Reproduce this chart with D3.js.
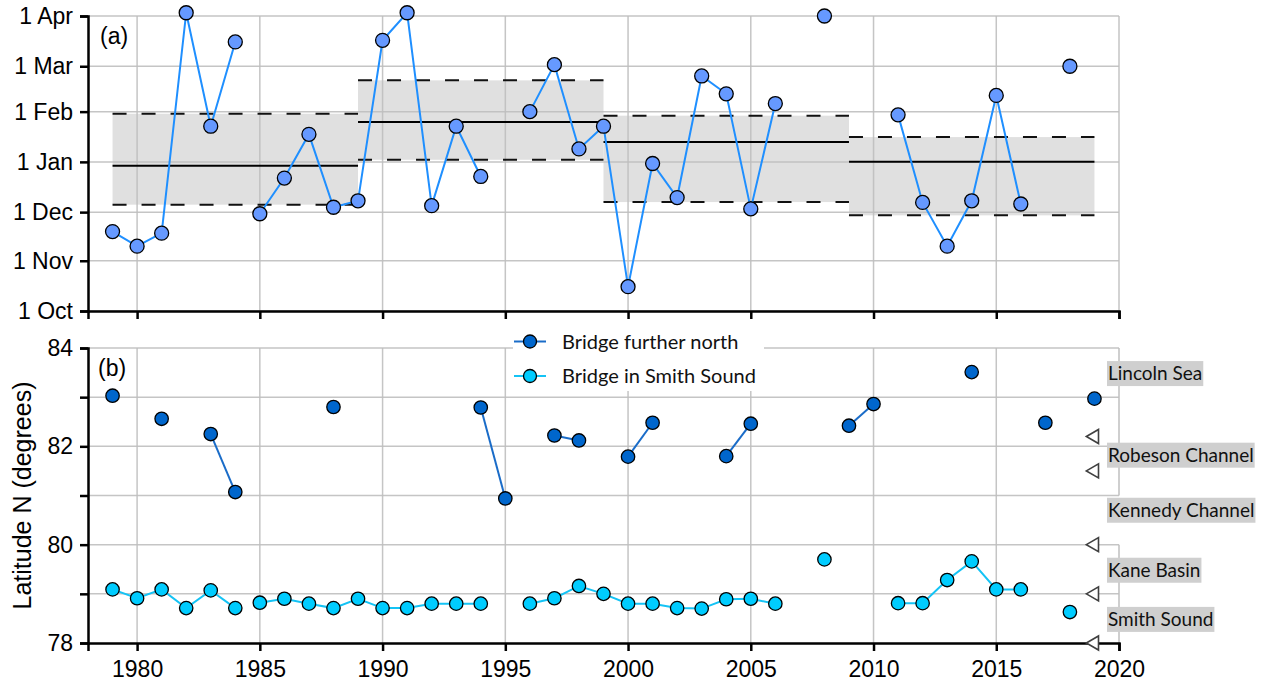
<!DOCTYPE html>
<html>
<head>
<meta charset="utf-8">
<script src="https://cdn.jsdelivr.net/npm/d3@7"></script>
<style>
  html, body { margin: 0; padding: 0; background: #fff; }
  svg { display: block; }
</style>
</head>
<body>
<svg id="chart" width="1263" height="686"></svg>
<script>
// ---- data -------------------------------------------------------------
const years = d3.range(1979, 2020);

// (a) ice-bridge formation date, days after 1 October
const formationDay = [
  49, 40, 48, 184, 114, 166, 60, 82, 109, 64,
  68, 167, 184, 65, 114, 83, null, 123, 152, 100,
  114, 15, 91, 70, 145, 134, 63, 128, null, 182,
  null, null, 121, 67, 40, 68, 133, 66, null, 151,
  null
];
// years at which the connecting line starts afresh
const lineRestarts = [1985];

// decadal mean and ± one standard deviation (days after 1 October)
const decadeStart = [1979, 1989, 1999, 2009];
const decadeEnd   = [1989, 1999, 2009, 2019];
const decadeMean  = [89.6, 116.6, 104.3, 92.1];
const decadeUpper = [121.7, 142.3, 120.5, 107.3];
const decadeLower = [65.6, 93.3, 67.2, 59.0];

// month ticks, days after 1 October
const monthDays   = [0, 31, 61, 92, 123, 151, 182];
const monthLabels = ["1 Oct", "1 Nov", "1 Dec", "1 Jan", "1 Feb", "1 Mar", "1 Apr"];

// (b) bridge latitude, degrees N
const northLat = [
  83.03, null, 82.56, null, 82.25, 81.07, null, null, null, 82.80,
  null, null, null, null, null, 82.79, 80.94, null, 82.22, 82.12,
  null, 81.79, 82.48, null, null, 81.80, 82.46, null, null, null,
  82.42, 82.86, null, null, null, 83.51, null, null, 82.48, null,
  82.97
];
const smithLat = [
  79.09, 78.91, 79.09, 78.71, 79.07, 78.71, 78.82, 78.90, 78.80, 78.71,
  78.90, 78.71, 78.71, 78.80, 78.80, 78.80, null, 78.80, 78.91, 79.16,
  79.00, 78.80, 78.80, 78.71, 78.70, 78.89, 78.90, 78.80, null, 79.70,
  null, null, 78.81, 78.81, 79.28, 79.66, 79.09, 79.09, null, 78.63,
  null
];

// region boundaries and names along the strait
const boundaryLat = [82.2, 81.5, 80, 79, 78];
const regionNames = ["Lincoln Sea", "Robeson Channel", "Kennedy Channel", "Kane Basin", "Smith Sound"];
const regionLabelLat = [83.48, 81.82, 80.70, 79.48, 78.48];

const seriesNames = ["Bridge further north", "Bridge in Smith Sound"];

const xTicks = [1980, 1985, 1990, 1995, 2000, 2005, 2010, 2015, 2020];
const latTicks = [78, 79, 80, 81, 82, 83, 84];

// ---- layout -----------------------------------------------------------
const svg = d3.select("#chart");
const GRID = "#bfbfbf";
const TICK_FONT = "'Liberation Sans', Arial, sans-serif";
const LABEL_FONT = "Lato, 'Open Sans', sans-serif";

const x = d3.scaleLinear().domain([1978, 2020]).range([88, 1119]);
const yTop = d3.scaleLinear().domain([0, 182]).range([311, 16]);
const yBot = d3.scaleLinear().domain([78, 84]).range([643, 348]);

const colTopLine = "#1f8fff", colTopFill = "#6699ff";
const colNorthLine = "#1a6cc8", colNorthFill = "#0066cc";
const colSmithLine = "#14c3f5", colSmithFill = "#00ccff";

function pairs(vals) {
  return years.map((yr, i) => ({ year: yr, v: vals[i] }));
}
function segments(vals) {
  const segs = [];
  let cur = [];
  pairs(vals).forEach(d => {
    if (d.v == null || lineRestarts.includes(d.year)) {
      if (cur.length) segs.push(cur);
      cur = [];
    }
    if (d.v != null) cur.push(d);
  });
  if (cur.length) segs.push(cur);
  return segs.filter(s => s.length > 1);
}

// ---- panel (a) ----------------------------------------------------------
const gA = svg.append("g");

// decadal ±1 sd bands
decadeStart.forEach((s, i) => {
  gA.append("rect")
    .attr("x", x(s)).attr("width", x(decadeEnd[i]) - x(s))
    .attr("y", yTop(decadeUpper[i]))
    .attr("height", yTop(decadeLower[i]) - yTop(decadeUpper[i]))
    .attr("fill", "#e0e0e0");
});

// grid
gA.selectAll("line.hgrid").data(monthDays).join("line")
  .attr("x1", x(1978)).attr("x2", x(2020))
  .attr("y1", d => yTop(d)).attr("y2", d => yTop(d))
  .attr("stroke", GRID).attr("stroke-width", 1.5).attr("opacity", 0.9);
gA.selectAll("line.vgrid").data(xTicks).join("line")
  .attr("x1", d => x(d)).attr("x2", d => x(d))
  .attr("y1", yTop(182)).attr("y2", yTop(0))
  .attr("stroke", GRID).attr("stroke-width", 1.5).attr("opacity", 0.9);

// decadal mean (solid) and ± sd (dashed)
decadeStart.forEach((s, i) => {
  gA.append("line")
    .attr("x1", x(s)).attr("x2", x(decadeEnd[i]))
    .attr("y1", yTop(decadeMean[i])).attr("y2", yTop(decadeMean[i]))
    .attr("stroke", "#000").attr("stroke-width", 2);
  [decadeUpper[i], decadeLower[i]].forEach(v => {
    gA.append("line")
      .attr("x1", x(s)).attr("x2", x(decadeEnd[i]))
      .attr("y1", yTop(v)).attr("y2", yTop(v))
      .attr("stroke", "#111").attr("stroke-width", 2)
      .attr("stroke-dasharray", "14,15");
  });
});

// axes
gA.append("g").attr("transform", `translate(${x(1978)},0)`)
  .call(d3.axisLeft(yTop).tickValues(monthDays)
    .tickFormat((d, i) => monthLabels[i]).tickSizeOuter(0).tickSize(8).tickPadding(7));
gA.append("g").attr("transform", `translate(0,${yTop(0)})`)
  .call(d3.axisBottom(x).tickValues(xTicks).tickFormat("").tickSizeOuter(0).tickSize(8));

// data line and points
const lineA = d3.line().x(d => x(d.year)).y(d => yTop(d.v));
gA.selectAll("path.segA").data(segments(formationDay)).join("path")
  .attr("d", lineA).attr("fill", "none")
  .attr("stroke", colTopLine).attr("stroke-width", 2);
gA.selectAll("circle").data(pairs(formationDay).filter(d => d.v != null)).join("circle")
  .attr("cx", d => x(d.year)).attr("cy", d => yTop(d.v)).attr("r", 7)
  .attr("fill", colTopFill).attr("stroke", "#000").attr("stroke-width", 1.3);

gA.append("text").attr("x", 100).attr("y", 44)
  .attr("font-family", TICK_FONT).attr("font-size", 23).text("(a)");

// ---- panel (b) ----------------------------------------------------------
const gB = svg.append("g");

gB.selectAll("line.hgrid").data(latTicks.slice(1)).join("line")
  .attr("x1", x(1978)).attr("x2", x(2020))
  .attr("y1", d => yBot(d)).attr("y2", d => yBot(d))
  .attr("stroke", GRID).attr("stroke-width", 1.5).attr("opacity", 0.9);
gB.selectAll("line.vgrid").data(xTicks.slice(0, -1)).join("line")
  .attr("x1", d => x(d)).attr("x2", d => x(d))
  .attr("y1", yBot(84)).attr("y2", yBot(78))
  .attr("stroke", GRID).attr("stroke-width", 1.5).attr("opacity", 0.9);
// right frame, open between 81 and 80 N
[[84, 81], [80, 78]].forEach(([a, b]) => {
  gB.append("line")
    .attr("x1", x(2020)).attr("x2", x(2020))
    .attr("y1", yBot(a)).attr("y2", yBot(b))
    .attr("stroke", GRID).attr("stroke-width", 1.5);
});

gB.append("g").attr("transform", `translate(${x(1978)},0)`)
  .call(d3.axisLeft(yBot).tickValues(latTicks)
    .tickFormat(d => d % 2 === 0 ? d : "").tickSizeOuter(0).tickSize(8).tickPadding(7));
gB.append("g").attr("transform", `translate(0,${yBot(78)})`)
  .call(d3.axisBottom(x).tickValues(xTicks).tickFormat(d3.format("d"))
    .tickSizeOuter(0).tickSize(8).tickPadding(10));

// region boundary markers
const tri = d3.symbol().type(d3.symbolTriangle).size(85);
gB.selectAll("path.bound").data(boundaryLat).join("path")
  .attr("d", tri)
  .attr("transform", d => `translate(${x(2019)},${yBot(d)}) rotate(-90)`)
  .attr("fill", "#fff").attr("stroke", "#404040").attr("stroke-width", 1.6);

const lineB = d3.line().x(d => x(d.year)).y(d => yBot(d.v));
[[northLat, colNorthLine, colNorthFill], [smithLat, colSmithLine, colSmithFill]].forEach(([vals, lc, fc]) => {
  const g = gB.append("g");
  g.selectAll("path").data(segments(vals)).join("path")
    .attr("d", lineB).attr("fill", "none").attr("stroke", lc).attr("stroke-width", 2);
  g.selectAll("circle").data(pairs(vals).filter(d => d.v != null)).join("circle")
    .attr("cx", d => x(d.year)).attr("cy", d => yBot(d.v)).attr("r", 6.7)
    .attr("fill", fc).attr("stroke", "#000").attr("stroke-width", 1.3);
});

// region names on grey tags
regionNames.forEach((name, i) => {
  const g = gB.append("g");
  const t = g.append("text").attr("x", 1108).attr("y", yBot(regionLabelLat[i]))
    .attr("dy", "0.35em").attr("font-family", LABEL_FONT).attr("font-size", 19)
    .attr("fill", "#111").text(name);
  const bb = t.node().getBBox();
  g.insert("rect", "text")
    .attr("x", 1107).attr("y", yBot(regionLabelLat[i]) - 12.5)
    .attr("width", bb.width + 2).attr("height", 25)
    .attr("fill", "#cfcfcf");
});

gB.append("text").attr("x", 98).attr("y", 376)
  .attr("font-family", TICK_FONT).attr("font-size", 23).text("(b)");

gB.append("text")
  .attr("transform", `translate(31,${(yBot(78) + yBot(84)) / 2}) rotate(-90)`)
  .attr("text-anchor", "middle")
  .attr("font-family", TICK_FONT).attr("font-size", 25).text("Latitude N (degrees)");

// legend
const leg = svg.append("g");
leg.append("rect").attr("x", 513).attr("y", 322).attr("width", 251).attr("height", 69).attr("fill", "#fff");
[[colNorthLine, colNorthFill], [colSmithLine, colSmithFill]].forEach(([lc, fc], i) => {
  const cy = 341.5 + i * 34.5;
  leg.append("line").attr("x1", 514).attr("x2", 546).attr("y1", cy).attr("y2", cy)
    .attr("stroke", lc).attr("stroke-width", 2);
  leg.append("circle").attr("cx", 530).attr("cy", cy).attr("r", 6.5)
    .attr("fill", fc).attr("stroke", "#000").attr("stroke-width", 1.3);
  leg.append("text").attr("x", 562).attr("y", cy).attr("dy", "0.35em")
    .attr("font-family", LABEL_FONT).attr("font-size", 20).attr("fill", "#111")
    .text(seriesNames[i]);
});

// axis styling
svg.selectAll(".domain").attr("stroke", "#000").attr("stroke-width", 2.5);
svg.selectAll(".tick line").attr("stroke", "#000").attr("stroke-width", 2.5);
svg.selectAll(".tick text").attr("font-family", TICK_FONT).attr("font-size", 23).attr("fill", "#000");
</script>
</body>
</html>
